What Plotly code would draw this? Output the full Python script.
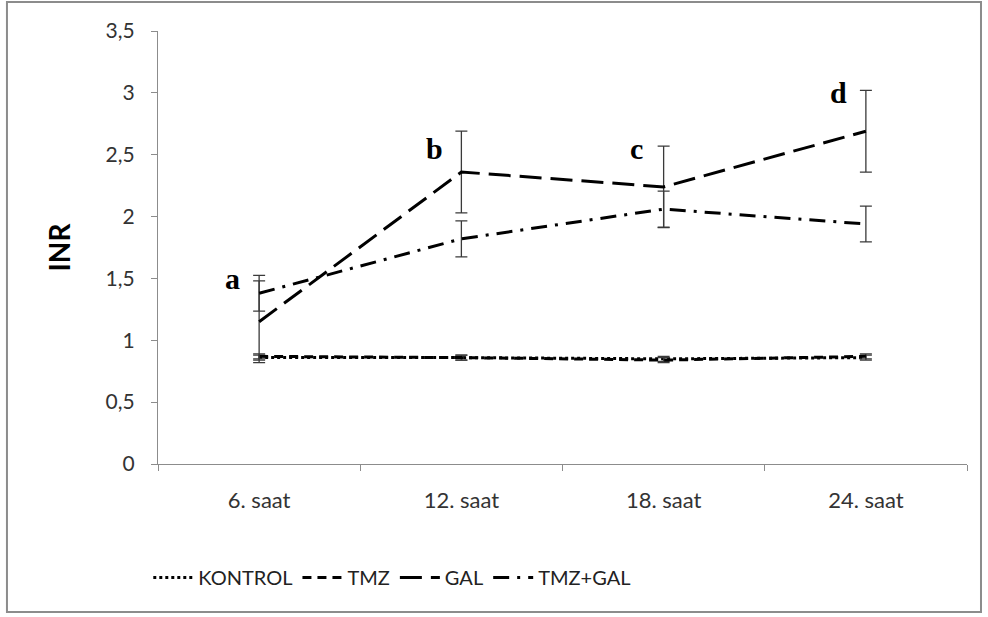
import plotly.graph_objects as go

categories = ["6. saat", "12. saat", "18. saat", "24. saat"]
kontrol = [0.86, 0.86, 0.85, 0.86]
kontrol_err = [0.02, 0.02, 0.02, 0.02]
tmz = [0.87, 0.86, 0.84, 0.87]
tmz_err = [0.02, 0.02, 0.02, 0.02]
gal = [1.15, 2.36, 2.24, 2.69]
gal_err = [0.33, 0.33, 0.33, 0.33]
tmzgal = [1.38, 1.82, 2.06, 1.94]
tmzgal_err = [0.145, 0.145, 0.145, 0.145]
letters = ["a", "b", "c", "d"]
letter_y = [1.5, 2.55, 2.55, 3.0]

SANS = "Lato, sans-serif"

fig = go.Figure()

def add(name, y, err, dash):
    fig.add_trace(go.Scatter(
        x=categories, y=y, name=name, mode="lines",
        line=dict(color="black", width=3, dash=dash),
        error_y=dict(type="data", array=err, visible=True, color="#3a3a3a",
                     thickness=1.3, width=6),
    ))

add("KONTROL", kontrol, kontrol_err, "3px,3px")
add("TMZ", tmz, tmz_err, "9px,6px")
add("GAL", gal, gal_err, "22px,9px")
add("TMZ+GAL", tmzgal, tmzgal_err, "16px,8px,3px,8px")

for i, (c, t) in enumerate(zip(categories, letters)):
    fig.add_annotation(x=i, y=letter_y[i], xref="x", yref="y", text="<b>%s</b>" % t,
                       showarrow=False, xshift=-27,
                       font=dict(family="Liberation Serif", size=30, color="black"))

fig.add_shape(type="rect", xref="paper", yref="paper",
              x0=-0.1867, x1=1.0173, y0=-0.342, y1=1.067,
              line=dict(color="#8c8c8c", width=2), fillcolor="rgba(0,0,0,0)")

fig.update_layout(
    width=988, height=617,
    margin=dict(l=158, r=21, t=31, b=153),
    paper_bgcolor="white", plot_bgcolor="white",
    separators=", ",
    font=dict(family=SANS, size=21, color="#333333"),
    showlegend=True,
    legend=dict(orientation="h", x=-0.012, xanchor="left", y=-0.262, yanchor="middle",
                font=dict(family=SANS, size=20, color="#222222"),
                itemwidth=40, tracegroupgap=0),
    xaxis=dict(type="category", range=[-0.5, 3.5], showline=True, linecolor="#8c8c8c",
               linewidth=1.3, ticks="outside", tickson="boundaries", ticklen=6,
               tickcolor="#8c8c8c", showgrid=False, zeroline=False,
               ticklabelstandoff=16,
               tickfont=dict(family=SANS, size=22, color="#333333")),
    yaxis=dict(range=[0, 3.5], dtick=0.5, showline=True, linecolor="#8c8c8c",
               linewidth=1.3, ticks="outside", ticklen=6, tickcolor="#8c8c8c",
               showgrid=False, zeroline=False, tickformat=".1~f",
               ticklabelstandoff=12,
               tickfont=dict(family=SANS, size=21, color="#333333"),
               title=dict(text="<b>INR</b>", font=dict(family="Lato", size=28, color="black"),
                          standoff=26)),
)

fig.write_html("out.html", config={"displayModeBar": False},
               post_script="document.body.style.margin='0';")
